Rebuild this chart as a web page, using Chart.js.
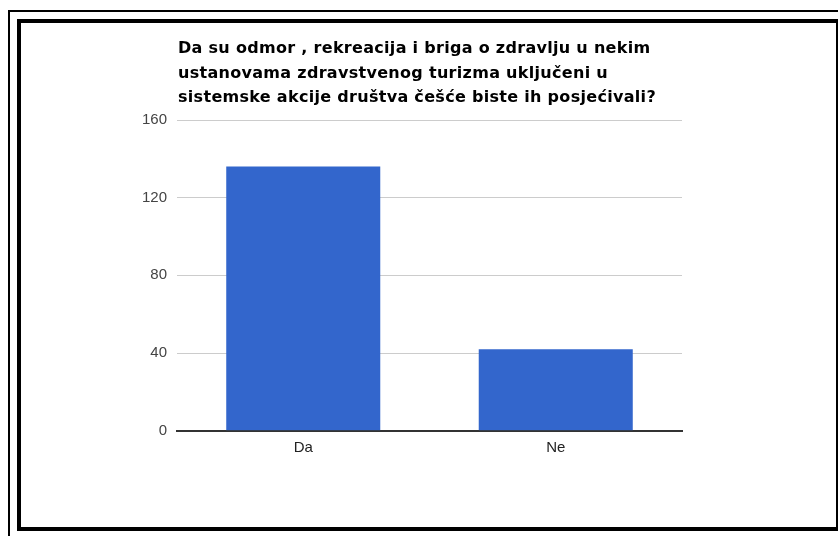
<!DOCTYPE html>
<html>
<head>
<meta charset="utf-8">
<script src="https://cdn.jsdelivr.net/npm/chart.js@4/dist/chart.umd.min.js"></script>
<style>
  html, body { margin: 0; padding: 0; background: #fff; width: 838px; height: 536px; overflow: hidden; }
  /* outer thin frame, runs off the right/bottom edge */
  .outer { position: absolute; left: 8px; top: 10px; width: 900px; height: 600px;
           border-left: 2px solid #000; border-top: 2px solid #000; }
  /* inner heavy frame */
  .inner { position: absolute; left: 17px; top: 19px; width: 815px; height: 504px;
           border-left: 4px solid #000; border-top: 4px solid #000;
           border-bottom: 4px solid #000; border-right: 2px solid #000; background: #fff; }
  .wrap { position: relative; width: 815px; height: 504px; }
</style>
</head>
<body>
<div class="outer"></div>
<div class="inner"><div class="wrap"><canvas id="chart"></canvas></div></div>
<script>
  "use strict";

  /* ─── Data ─── */
  const titleLines = [
    "Da su odmor , rekreacija i briga o zdravlju u nekim",
    "ustanovama zdravstvenog turizma uključeni u",
    "sistemske akcije društva češće biste ih posjećivali?",
  ];
  const categories = ["Da", "Ne"];
  const values = [136, 42];
  const yTicks = [0, 40, 80, 120, 160];

  /* ─── Title drawn flush with the plot's left edge ─── */
  const titlePlugin = {
    id: "leftTitle",
    afterDraw(chart) {
      const { ctx, chartArea } = chart;
      ctx.save();
      ctx.font = 'bold 16px "DejaVu Sans", sans-serif';
      ctx.letterSpacing = "0.3px";
      ctx.fillStyle = "#000";
      ctx.textAlign = "left";
      ctx.textBaseline = "alphabetic";
      titleLines.forEach((line, i) => {
        ctx.fillText(line, chartArea.left + 1, 30 + i * 24.5);
      });
      ctx.restore();
    },
  };

  const tickFont = { family: '"Liberation Sans", Arial, sans-serif', size: 15 };

  new Chart(document.getElementById("chart"), {
    type: "bar",
    data: {
      labels: categories,
      datasets: [{
        data: values,
        backgroundColor: "#3366cc",
        borderWidth: 0,
        categoryPercentage: 0.61,
        barPercentage: 1,
      }],
    },
    options: {
      responsive: true,
      maintainAspectRatio: false,
      animation: false,
      layout: { padding: { left: 0, right: 154, top: 97, bottom: 0 } },
      plugins: {
        legend: { display: false },
        title: { display: false },
        tooltip: { enabled: false },
      },
      scales: {
        x: {
          z: 1,
          grid: { display: false },
          border: { display: true, color: "#333", width: 2 },
          ticks: { color: "#222", font: tickFont, padding: 0, maxRotation: 0 },
          afterFit: (s) => { s.height = 96.3; },
        },
        y: {
          min: 0,
          max: 160,
          border: { display: false },
          grid: { color: "#cccccc", lineWidth: 1, drawTicks: false },
          ticks: { color: "#444", font: tickFont, padding: 10 },
          afterBuildTicks: (s) => { s.ticks = yTicks.map((v) => ({ value: v })); },
          afterFit: (s) => { s.width = 156; },
        },
      },
    },
    plugins: [titlePlugin],
  });
</script>
</body>
</html>
